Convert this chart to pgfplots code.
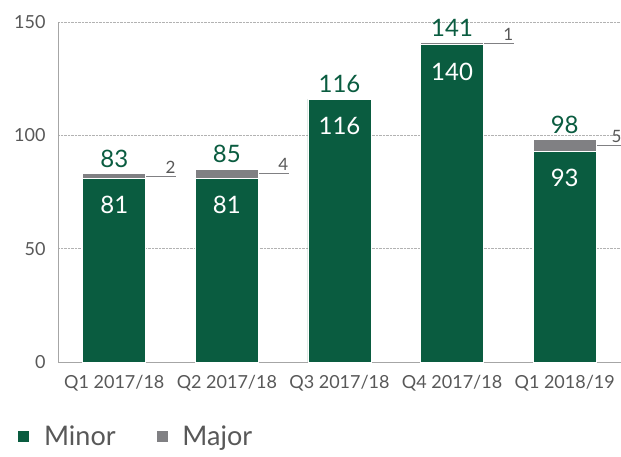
\documentclass[border=0pt]{standalone}
\usepackage{fontspec}
\setmainfont{Lato}
\usepackage{pgfplots}
\pgfplotsset{compat=1.18}
\definecolor{bargreen}{RGB}{10,92,64}
\definecolor{bargray}{RGB}{128,128,131}
\definecolor{txtgray}{RGB}{88,88,88}
\begin{document}
\begin{tikzpicture}[x=1pt,y=1pt]
\useasboundingbox (0,0) rectangle (621,457);
\clip (0,0) rectangle (621,457);
\begin{axis}[
  at={(58pt,95pt)}, anchor=south west,
  scale only axis, width=563pt, height=340pt,
  xmin=-0.5, xmax=4.5, ymin=0, ymax=150,
  ybar stacked, bar width=0.56,
  clip=false,
  xtick=data,
  xticklabels={Q1 2017/18, Q2 2017/18, Q3 2017/18, Q4 2017/18, Q1 2018/19},
  ytick={0,50,100,150},
  axis x line*=bottom, axis y line*=left,
  axis line style={draw=gray!70, line width=0.8pt, -},
  major tick length=0pt,
  ymajorgrids, grid style={densely dotted, gray!60, line width=0.6pt},
  /pgf/number format/assume math mode=true,
  tick label style={font=\fontsize{18}{18}\selectfont, text=txtgray},
  yticklabel style={xshift=-9pt},
  xticklabel style={yshift=-10pt},
  legend style={at={(-0.078,-0.22)}, anchor=west, draw=none, fill=none,
    font=\fontsize{27}{27}\selectfont, text=txtgray,
    legend columns=2,
    /tikz/every odd column/.append style={column sep=12pt},
    /tikz/every even column/.append style={column sep=38pt}},
  legend image code/.code={\fill[#1] (0pt,-6pt) rectangle (12pt,6pt);},
]
% minor: label placed 27pt below the top of the minor segment
\addplot[fill=bargreen, draw=white, line width=0.8pt,
  point meta=explicit, nodes near coords,
  visualization depends on={rawy \as \rawy},
  nodes near coords style={text=white, font=\fontsize{24}{24}\selectfont, anchor=center,
    yshift={\rawy*1.13333pt-27pt}}]
  coordinates {(0,81) [81] (1,81) [81] (2,116) [116] (3,140) [140] (4,93) [93]};
\addlegendentry{Minor}
% major: label (total) placed 15pt above the top of the stack
\addplot[fill=bargray, draw=white, line width=0.8pt,
  point meta=explicit, nodes near coords,
  visualization depends on={rawy \as \rawy},
  nodes near coords style={text=bargreen, font=\fontsize{24}{24}\selectfont, anchor=center,
    yshift={\rawy*1.13333pt+15pt}}]
  coordinates {(0,2) [83] (1,4) [85] (2,0.001) [116] (3,1) [141] (4,5) [98]};
\addlegendentry{Major}
% leader lines for major values
\draw[bargray, line width=0.8pt] (axis cs:0.25,82) -- (axis cs:0.55,82);
\node[text=txtgray, font=\fontsize{17}{17}\selectfont] at (axis cs:0.50,82) [yshift=9pt] {2};
\draw[bargray, line width=0.8pt] (axis cs:1.25,83) -- (axis cs:1.55,83);
\node[text=txtgray, font=\fontsize{17}{17}\selectfont] at (axis cs:1.50,83) [yshift=9pt] {4};
\draw[bargray, line width=0.8pt] (axis cs:3.25,140.5) -- (axis cs:3.55,140.5);
\node[text=txtgray, font=\fontsize{17}{17}\selectfont] at (axis cs:3.50,140.5) [yshift=9pt] {1};
\draw[bargray, line width=0.8pt] (axis cs:4.25,95.5) -- (axis cs:4.55,95.5);
\node[text=txtgray, font=\fontsize{17}{17}\selectfont] at (axis cs:4.46,95.5) [yshift=9pt] {5};
\end{axis}
\end{tikzpicture}
\end{document}
